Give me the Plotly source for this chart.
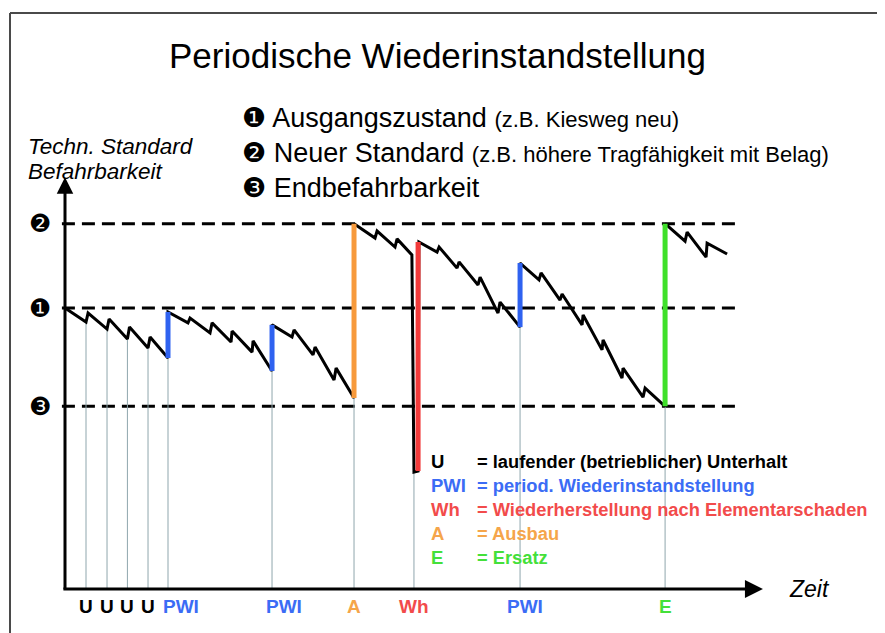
import plotly.graph_objects as go

# ---------------- data (time in years, technical standard as index: level 1 = 100) ----------------
levels = [130, 100, 65]
level_marks = ["❷", "❶", "❸"]

curve_t = [0, 1.02, 1.12, 2.04, 2.14, 3.03, 3.13, 4.03, 4.13, 5.0,
           5.0, 5.97, 6.07, 7.04, 7.14, 8.06, 8.11, 9.08, 9.13, 10.05,
           10.05, 11.02, 11.12, 12.04, 12.14, 13.06, 13.16, 14.03,
           14.03, 15.05, 15.15, 16.02, 16.12, 16.84, 16.94, 17.14,
           17.18, 18.06, 18.16, 19.03, 19.13, 20.05, 20.15, 21.02, 21.12, 22.09,
           22.09, 23.01, 23.11, 24.03, 24.13, 25.10, 25.15, 26.07, 26.12, 27.04, 27.09, 28.06, 28.16, 29.13,
           29.13, 30.10, 30.20, 31.12, 31.17, 32.14]
curve_s = [100.0, 95.0, 98.2, 92.5, 96.1, 89.0, 93.2, 85.8, 89.7, 82.2,
           98.6, 94.7, 96.4, 91.1, 94.7, 87.9, 91.8, 84.3, 88.3, 77.6,
           94.0, 89.7, 92.2, 83.3, 86.1, 74.4, 78.6, 68.0,
           130.0, 124.9, 127.4, 121.7, 124.6, 118.9, 41.6, 42.0,
           123.5, 119.9, 121.7, 114.2, 116.4, 108.2, 111.0, 98.2, 102.1, 93.2,
           116.0, 110.0, 112.5, 102.8, 105.0, 94.0, 97.5, 85.1, 88.6, 75.1, 78.6, 68.3, 71.5, 65.0,
           130.0, 123.8, 127.0, 118.1, 123.1, 119.2]

pwi_t = [5.0, 10.05, 22.09]
pwi_from = [82.2, 77.6, 93.2]
pwi_to = [98.6, 94.0, 116.0]
a_t, a_from, a_to = [14.03], [68.0], [130.0]
wh_t, wh_from, wh_to = [17.14], [42.0], [123.5]
e_t, e_from, e_to = [29.13], [65.0], [130.0]

event_t = [1.02, 2.04, 3.03, 4.03, 5.0, 10.05, 14.03, 16.94, 22.09, 29.13]
event_low = [95.0, 92.5, 89.0, 85.8, 82.2, 77.6, 68.0, 41.6, 93.2, 65.0]
event_labels = ["U", "U", "U", "U", "PWI", "PWI", "A", "Wh", "PWI", "E"]

legend_keys = ["U", "PWI", "Wh", "A", "E"]
legend_texts = ["= laufender (betrieblicher) Unterhalt",
                "= period. Wiederinstandstellung",
                "= Wiederherstellung nach Elementarschaden",
                "= Ausbau",
                "= Ersatz"]

header_marks = ["❶", "❷", "❸"]
header_main = ["Ausgangszustand", "Neuer Standard", "Endbefahrbarkeit"]
header_note = ["(z.B. Kiesweg neu)", "(z.B. höhere Tragfähigkeit mit Belag)", ""]

# ---------------- styling / layout constants ----------------
WIN_W, WIN_H = 885, 633
OFF = 8                      # default page margin around the plot div
W, H = WIN_W - OFF, WIN_H - OFF
X0_PX, PX_PER_T = 65, 20.6   # screen pixel of time 0, pixels per year
Y0_PX, PX_PER_S = 589, 2.81  # screen pixel of standard 0, pixels per index point
T_ARROW, S_ARROW = 33.88, 146.5
T_DASH = [-0.15, 32.8]

COL = {"U": "#000000", "PWI": "#2f62f0", "Wh": "#f23a3a", "A": "#f79a3c", "E": "#3fe02a"}
TXT = {"U": "#000000", "PWI": "#3b6cf5", "Wh": "#f24b4b", "A": "#f5a54a", "E": "#44e03a"}
FONT = "Liberation Sans, Arial, DejaVu Sans"


def px(x):
    return (x - OFF) / W


def py(y):
    return 1 - (y - OFF) / H


def bars(ts, a, b):
    xs, ys = [], []
    for t, lo, hi in zip(ts, a, b):
        xs += [t, t, None]
        ys += [lo, hi, None]
    return xs, ys


fig = go.Figure()

# thin grey drop lines
dx, dy = bars(event_t, event_low, [0] * len(event_t))
fig.add_trace(go.Scatter(x=dx, y=dy, mode="lines", line=dict(color="#8fa6ad", width=1),
                         hoverinfo="skip", showlegend=False))

# the sawtooth curve
fig.add_trace(go.Scatter(x=curve_t, y=curve_s, mode="lines",
                         line=dict(color="black", width=3), hoverinfo="skip", showlegend=False))

# coloured interventions
for key, (ts, a, b) in {"PWI": (pwi_t, pwi_from, pwi_to), "A": (a_t, a_from, a_to),
                        "Wh": (wh_t, wh_from, wh_to), "E": (e_t, e_from, e_to)}.items():
    bx, by = bars(ts, a, b)
    fig.add_trace(go.Scatter(x=bx, y=by, mode="lines", line=dict(color=COL[key], width=5),
                             hoverinfo="skip", showlegend=False))

shapes = []
for lv in levels:
    shapes.append(dict(type="line", xref="x", yref="y", x0=T_DASH[0], x1=T_DASH[1], y0=lv, y1=lv,
                       line=dict(color="black", width=3, dash="13px,7px"), layer="below"))
# page frame
shapes.append(dict(type="line", xref="paper", yref="paper", x0=px(10), x1=px(10), y0=0, y1=py(13),
                   line=dict(color="#4a4a4a", width=2)))
shapes.append(dict(type="line", xref="paper", yref="paper", x0=px(10), x1=1, y0=py(13), y1=py(13),
                   line=dict(color="#4a4a4a", width=2)))

ann = []
# axes with arrows
ann.append(dict(x=T_ARROW, y=0, ax=-0.15, ay=0, xref="x", yref="y", axref="x", ayref="y",
                text="", showarrow=True, arrowhead=2, arrowsize=1.2, arrowwidth=3, arrowcolor="black"))
ann.append(dict(x=0, y=S_ARROW, ax=0, ay=-0.6, xref="x", yref="y", axref="x", ayref="y",
                text="", showarrow=True, arrowhead=2, arrowsize=1.1, arrowwidth=3, arrowcolor="black"))

# level markers
for lv, mk in zip(levels, level_marks):
    ann.append(dict(x=px(40), y=lv, xref="paper", yref="y", text=mk, showarrow=False,
                    xanchor="center", yanchor="middle",
                    font=dict(family="DejaVu Sans", size=25, color="black")))

# tick labels under the time axis
label_shift = {4: 13, 5: 12, 8: 5}
for i, (t, lab) in enumerate(zip(event_t, event_labels)):
    ann.append(dict(x=t, y=py(606), xref="x", yref="paper", text="<b>%s</b>" % lab, showarrow=False,
                    xanchor="center", yanchor="middle", xshift=label_shift.get(i, 0),
                    font=dict(family=FONT, size=19, color=TXT[lab])))

# title
ann.append(dict(x=px(437), y=py(56), xref="paper", yref="paper", text="Periodische Wiederinstandstellung",
                showarrow=False, xanchor="center", yanchor="middle",
                font=dict(family=FONT, size=35, color="black")))

# header list
for i, (mk, main, note) in enumerate(zip(header_marks, header_main, header_note)):
    txt = '<span style="font-family:DejaVu Sans;font-size:27px">%s</span> %s' % (mk, main)
    if note:
        txt += ' <span style="font-size:22px">%s</span>' % note
    ann.append(dict(x=px(240), y=py(118 + 34.5 * i), xref="paper", yref="paper", xanchor="left",
                    yanchor="middle", text=txt, showarrow=False,
                    font=dict(family=FONT, size=27, color="black")))

# y axis title
for j, line in enumerate(["Techn. Standard", "Befahrbarkeit"]):
    ann.append(dict(x=px(26), y=py(147 + 25 * j), xref="paper", yref="paper", xanchor="left",
                    yanchor="middle", text=line, showarrow=False,
                    font=dict(family=FONT, size=22.5, color="black", style="italic")))

# x axis title
ann.append(dict(x=px(787), y=py(589), xref="paper", yref="paper", xanchor="left", yanchor="middle",
                text="Zeit", showarrow=False,
                font=dict(family=FONT, size=23, color="black", style="italic")))

# key
for k, (key, desc) in enumerate(zip(legend_keys, legend_texts)):
    yk = py(461 + 24 * k)
    ann.append(dict(x=px(429), y=yk, xref="paper", yref="paper", xanchor="left", yanchor="middle",
                    text="<b>%s</b>" % key, showarrow=False,
                    font=dict(family=FONT, size=18.5, color=TXT[key])))
    ann.append(dict(x=px(475), y=yk, xref="paper", yref="paper", xanchor="left", yanchor="middle",
                    text="<b>%s</b>" % desc, showarrow=False,
                    font=dict(family=FONT, size=18.3, color=TXT[key])))

fig.update_layout(
    width=W, height=H, autosize=False,
    margin=dict(l=0, r=0, t=0, b=0, pad=0),
    paper_bgcolor="white", plot_bgcolor="white",
    xaxis=dict(range=[(OFF - X0_PX) / PX_PER_T, (WIN_W - X0_PX) / PX_PER_T], visible=False, fixedrange=True),
    yaxis=dict(range=[(Y0_PX - WIN_H) / PX_PER_S, (Y0_PX - OFF) / PX_PER_S], visible=False, fixedrange=True),
    shapes=shapes, annotations=ann, showlegend=False,
)

fig.write_html("out.html", config={"displayModeBar": False})
